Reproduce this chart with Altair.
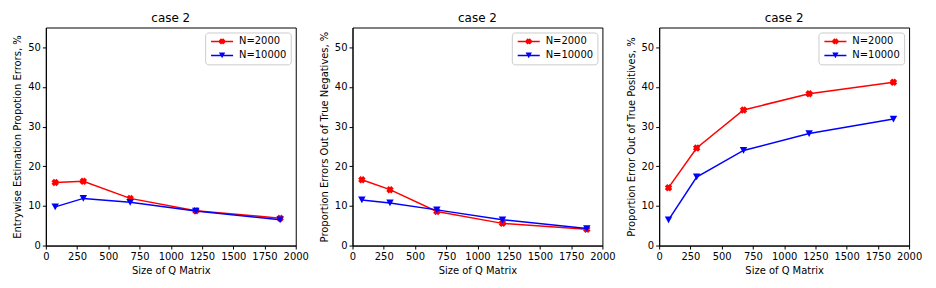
import altair as alt
import pandas as pd

sizes = [75, 300, 675, 1200, 1875]
series = ["N=2000", "N=10000"]
colors = ["#ff0000", "#0000ff"]

p1_2000 = [15.9, 16.2, 11.9, 8.8, 6.9]
p1_10000 = [9.75, 11.9, 10.9, 8.7, 6.5]
p2_2000 = [16.6, 14.1, 8.6, 5.6, 4.1]
p2_10000 = [11.5, 10.75, 9.0, 6.5, 4.3]
p3_2000 = [14.6, 24.6, 34.2, 38.3, 41.2]
p3_10000 = [6.5, 17.3, 24.0, 28.25, 31.9]

y_titles = [
    "Entrywise Estimation Propotion Errors, %",
    "Proportion Errors Out of True Negatives, %",
    "Proportion Error Out of True Positives, %",
]
panel_title = "case 2"
x_title = "Size of Q Matrix"
x_ticks = [0, 250, 500, 750, 1000, 1250, 1500, 1750, 2000]
y_ticks = [0, 10, 20, 30, 40, 50]

X_PATH = "M-1,-0.333L-0.333,-1L0,-0.667L0.333,-1L1,-0.333L0.667,0L1,0.333L0.333,1L0,0.667L-0.333,1L-1,0.333L-0.667,0Z"
TRI_PATH = "M-1,-0.9L1,-0.9L0,0.9Z"
LINE_PATH = "M-3.5,-0.24L3.5,-0.24L3.5,0.24L-3.5,0.24Z"
marker_paths = [X_PATH, TRI_PATH]

FONT = "DejaVu Sans"


def make_legend():
    return alt.Legend(
        title=None,
        orient="top-right",
        offset=5,
        strokeColor="#cccccc",
        fillColor="white",
        cornerRadius=3,
        padding=4,
        labelFont=FONT,
        labelFontSize=10,
        labelColor="black",
        symbolSize=40,
        symbolStrokeWidth=0,
        symbolOpacity=1,
        symbolOffset=8,
        labelOffset=12,
        rowPadding=4,
    )


def panel(y2000, y10000, ytitle):
    df = pd.DataFrame(
        {
            "size": sizes * 2,
            "value": y2000 + y10000,
            "series": [series[0]] * len(sizes) + [series[1]] * len(sizes),
        }
    )
    xenc = alt.X(
        "size:Q",
        scale=alt.Scale(domain=[0, 2000], nice=False),
        axis=alt.Axis(values=x_ticks, title=x_title, format="d",
                      labelOverlap=False, labelFlush=False),
    )
    yenc = alt.Y(
        "value:Q",
        scale=alt.Scale(domain=[0, 55], nice=False),
        axis=alt.Axis(values=y_ticks, title=ytitle, format="d",
                      labelOverlap=False, labelFlush=False),
    )
    cscale = alt.Scale(domain=series, range=colors)
    sscale = alt.Scale(domain=series, range=[p + LINE_PATH for p in marker_paths])
    base = alt.Chart(df)
    layers = []
    # legend-only layer (invisible marks)
    layers.append(
        base.mark_point(filled=True, size=56, opacity=0).encode(
            x=xenc,
            y=yenc,
            color=alt.Color("series:N", scale=cscale, legend=make_legend()),
            shape=alt.Shape("series:N", scale=sscale, legend=make_legend()),
        )
    )
    for s, c, m in zip(series, colors, marker_paths):
        sub = base.transform_filter(alt.datum.series == s)
        layers.append(
            sub.mark_line(strokeWidth=1.5, color=c).encode(x=xenc, y=yenc)
        )
        layers.append(
            sub.mark_point(filled=True, size=56, opacity=1, color=c, shape=m).encode(
                x=xenc, y=yenc
            )
        )
    return alt.layer(*layers).properties(
        width=251,
        height=219,
        title=alt.TitleParams(
            panel_title, fontSize=12, fontWeight="normal", font=FONT, color="black", offset=3
        ),
    )


chart = (
    alt.hconcat(
        panel(p1_2000, p1_10000, y_titles[0]),
        panel(p2_2000, p2_10000, y_titles[1]),
        panel(p3_2000, p3_10000, y_titles[2]),
        spacing=57,
        bounds="flush",
    )
    .resolve_scale(color="independent", shape="independent")
    .resolve_legend(color="independent", shape="independent")
    .properties(padding={"left": 4, "top": 2, "right": 5, "bottom": 5})
    .configure_view(stroke="black", strokeWidth=1)
    .configure_axis(
        grid=False,
        labelFont=FONT,
        labelFontSize=10,
        labelColor="black",
        titleFont=FONT,
        titleFontSize=10,
        titleFontWeight="normal",
        titleColor="black",
        tickColor="black",
        domainColor="black",
        tickSize=3.5,
        labelPadding=2,
        titlePadding=5,
    )
)

chart.save("out.html", embed_options={"renderer": "svg", "actions": False})
